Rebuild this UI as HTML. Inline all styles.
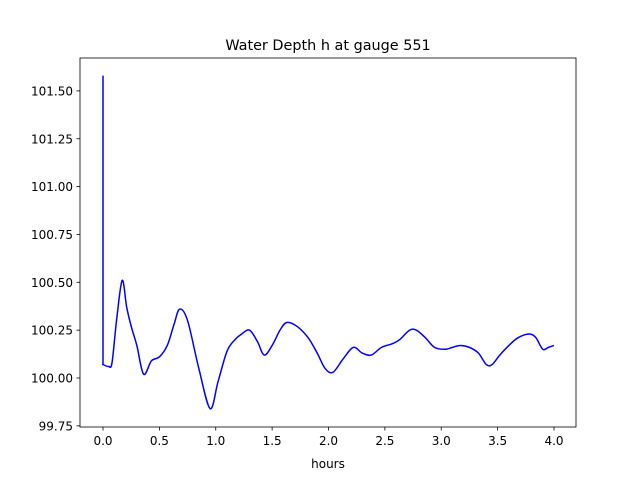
<!DOCTYPE html>
<html><head><meta charset="utf-8"><style>
body{margin:0;background:#fff;}
svg{display:block;font-family:"DejaVu Sans","Liberation Sans",sans-serif;}
</style></head><body>
<svg id="chart" width="640" height="480">
<rect width="640" height="480" fill="#fff"/>
<text x="328" y="50" text-anchor="middle" font-size="14.4">Water Depth h at gauge 551</text>
<g id="xt"></g>
<g id="yt"></g>
<path id="line" fill="none" stroke="#0000ff" stroke-width="1.5" stroke-linejoin="round"/>
<rect x="80" y="58" width="496" height="369" fill="none" stroke="#000" stroke-width="0.8"/>
<text x="328" y="468" text-anchor="middle" font-size="12">hours</text>
</svg>
<script>
const times=[0,0,0.001,0.05,0.08,0.12,0.17,0.21,0.25,0.3,0.36,0.43,0.5,0.57,0.63,0.68,0.75,0.85,0.95,1.02,1.1,1.17,1.23,1.3,1.37,1.43,1.5,1.57,1.63,1.72,1.82,1.9,1.97,2.04,2.13,2.22,2.3,2.38,2.47,2.57,2.63,2.72,2.78,2.86,2.94,3.03,3.1,3.17,3.25,3.33,3.4,3.45,3.52,3.6,3.68,3.78,3.84,3.9,3.95,4.0];
const depths=[101.58,100.07,100.07,100.06,100.08,100.3,100.51,100.37,100.27,100.17,100.02,100.09,100.11,100.17,100.28,100.36,100.3,100.05,99.84,99.98,100.14,100.2,100.23,100.25,100.19,100.12,100.17,100.25,100.29,100.27,100.21,100.13,100.05,100.03,100.1,100.16,100.13,100.12,100.16,100.18,100.2,100.25,100.25,100.21,100.16,100.15,100.16,100.17,100.16,100.13,100.07,100.07,100.12,100.17,100.21,100.23,100.21,100.15,100.16,100.17];
const xTicks=[0,0.5,1,1.5,2,2.5,3,3.5,4];
const xTickLabels=["0.0","0.5","1.0","1.5","2.0","2.5","3.0","3.5","4.0"];
const yTicks=[99.75,100,100.25,100.5,100.75,101,101.25,101.5];
const yTickLabels=["99.75","100.00","100.25","100.50","100.75","101.00","101.25","101.50"];
const NS="http://www.w3.org/2000/svg";
const X=t=>103+t*112.75;
const Y=v=>378-(v-100)*191.4;
const xt=document.getElementById('xt'),yt=document.getElementById('yt');
function mk(tag,at,p){const e=document.createElementNS(NS,tag);for(const k in at)e.setAttribute(k,at[k]);p.appendChild(e);return e;}
xTicks.forEach((t,i)=>{
 const l=mk('line',{x1:X(t),x2:X(t),y1:427,y2:430.5,stroke:'#000','stroke-width':0.8},xt);
 
 
 const tx=mk('text',{x:X(t),y:445,'text-anchor':'middle','font-size':12},xt);
 tx.textContent=xTickLabels[i];
 
 
});
yTicks.forEach((v,i)=>{
 const l=mk('line',{x1:76.5,x2:80,y1:Y(v),y2:Y(v),stroke:'#000','stroke-width':0.8},yt);
 
 
 const tx=mk('text',{x:73,y:Y(v)+4.5,'text-anchor':'end','font-size':12},yt);
 tx.textContent=yTickLabels[i];
 
 
});
const P=times.map((t,i)=>[X(t),Y(depths[i])]);
let d=`M${P[0][0]},${P[0][1]} L${P[1][0]},${P[1][1]}`;
for(let i=1;i<P.length-1;i++){
 const p0=P[Math.max(i-1,1)],p1=P[i],p2=P[i+1],p3=P[Math.min(i+2,P.length-1)];
 const c1=[p1[0]+(p2[0]-p0[0])/6,p1[1]+(p2[1]-p0[1])/6];
 const c2=[p2[0]-(p3[0]-p1[0])/6,p2[1]-(p3[1]-p1[1])/6];
 d+=` C${c1[0]},${c1[1]} ${c2[0]},${c2[1]} ${p2[0]},${p2[1]}`;
}
document.getElementById('line').setAttribute('d',d);
</script>
</body></html>
